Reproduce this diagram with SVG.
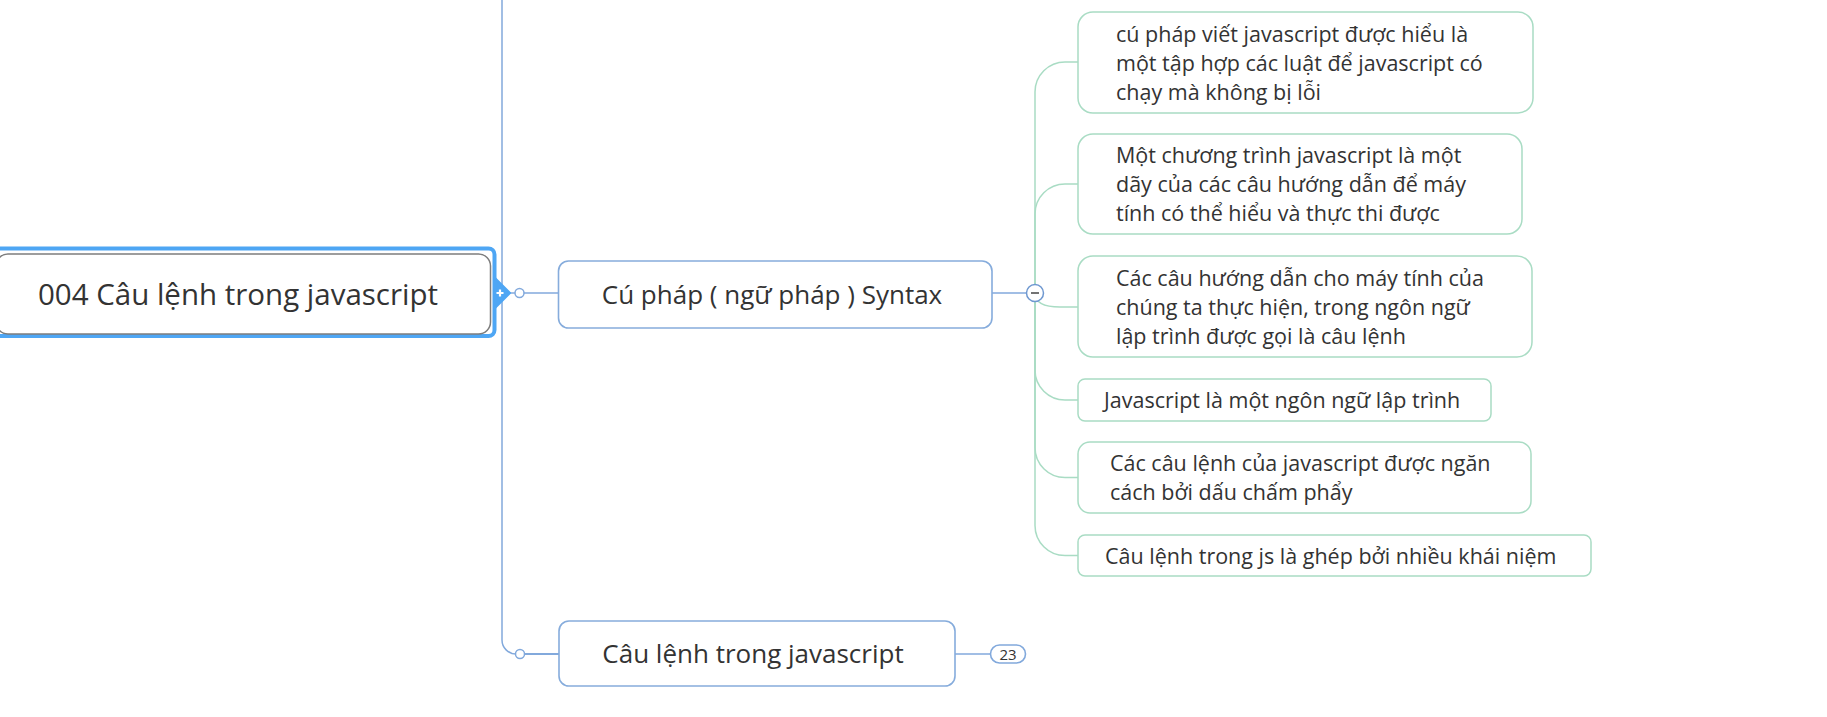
<svg xmlns="http://www.w3.org/2000/svg" width="1827" height="717" viewBox="0 0 1827 717">
<style>
  .t { font-family: "Open Sans", "Noto Sans", sans-serif; fill: #333333; }
  .root { font-size: 29.5px; }
  .main { font-size: 26px; }
  .leaf { font-size: 21.5px; }
  .badge { font-size: 15px; }
  .blue { fill: none; stroke: #82a9dc; stroke-width: 1.5; }
  .green { fill: none; stroke: #a9dcc4; stroke-width: 1.5; }
  .mbox { fill: #ffffff; stroke: #86acdc; stroke-width: 1.6; }
  .lbox { fill: #ffffff; stroke: #a9dcc4; stroke-width: 1.5; }
</style>
<rect width="1827" height="717" fill="#ffffff"/>

<g id="connectors">
  <path class="blue" d="M502,0 V640 A14,14 0 0 0 516,654"/>
  <path class="blue" d="M509,293 H515"/>
  <path class="blue" d="M524,293 H558.5"/>
  <path class="blue" d="M524.5,654 H559" style="stroke-width:2"/>
  <path class="blue" d="M992,293 H1026.5"/>
  <path class="blue" d="M955,654 H990.5"/>
  <path class="green" d="M1035,293 V92 A30,30 0 0 1 1065,62 H1078"/>
  <path class="green" d="M1035,293 V214 A30,30 0 0 1 1065,184 H1078"/>
  <path class="green" d="M1035,293 C1035,303 1044,307 1060,307 H1078"/>
  <path class="green" d="M1035,293 V370 A30,30 0 0 0 1065,400 H1078"/>
  <path class="green" d="M1035,293 V447.5 A30,30 0 0 0 1065,477.5 H1078"/>
  <path class="green" d="M1035,293 V525.5 A30,30 0 0 0 1065,555.5 H1078"/>
  <circle cx="519.5" cy="293" r="4.5" fill="#ffffff" stroke="#82a9dc" stroke-width="1.5"/>
  <circle cx="520" cy="654" r="4.5" fill="#ffffff" stroke="#82a9dc" stroke-width="1.5"/>
</g>

<g id="root">
  <rect x="-10" y="248.5" width="504.5" height="87.5" rx="6" fill="none" stroke="#4ea6f4" stroke-width="4"/>
  <path d="M494,277 L510,293 L494,309 Z" fill="#4ea6f4" stroke="#4ea6f4" stroke-width="2" stroke-linejoin="round"/>
  <path d="M496.5,293 H503.5 M500,289.5 V296.5" stroke="#ffffff" stroke-width="2.2"/>
  <rect x="-4" y="254" width="494.5" height="80" rx="12" fill="#ffffff" stroke="#7d7d7d" stroke-width="1.5"/>
  <text class="t root" x="238" y="305" text-anchor="middle">004 Câu lệnh trong javascript</text>
</g>

<g id="syntax">
  <rect class="mbox" x="558.5" y="261" width="433.5" height="67" rx="10"/>
  <text class="t main" x="772" y="304" text-anchor="middle">Cú pháp ( ngữ pháp ) Syntax</text>
  <circle cx="1035" cy="293" r="8.5" fill="#ffffff" stroke="#6f98d0" stroke-width="1.5"/>
  <path d="M1031,293 H1039" stroke="#444444" stroke-width="1.5"/>
</g>

<g id="statements">
  <rect class="mbox" x="559" y="621" width="396" height="65" rx="10"/>
  <text class="t main" x="753" y="663" text-anchor="middle">Câu lệnh trong javascript</text>
  <rect x="990.5" y="645" width="35" height="18" rx="9" fill="#ffffff" stroke="#82a9dc" stroke-width="1.6"/>
  <text class="t badge" x="1008" y="659.5" text-anchor="middle">23</text>
</g>

<g id="leaf1">
  <rect class="lbox" x="1078" y="12" width="455" height="101" rx="15"/>
  <text class="t leaf" x="1116" y="41.5">cú pháp viết javascript được hiểu là</text>
  <text class="t leaf" x="1116" y="70.5">một tập hợp các luật để javascript có</text>
  <text class="t leaf" x="1116" y="99.5">chạy mà không bị lỗi</text>
</g>

<g id="leaf2">
  <rect class="lbox" x="1078" y="134" width="444" height="100" rx="15"/>
  <text class="t leaf" x="1116" y="163">Một chương trình javascript là một</text>
  <text class="t leaf" x="1116" y="192">dãy của các câu hướng dẫn để  máy</text>
  <text class="t leaf" x="1116" y="221">tính có thể hiểu và thực thi được</text>
</g>

<g id="leaf3">
  <rect class="lbox" x="1078" y="256" width="454" height="101" rx="15"/>
  <text class="t leaf" x="1116" y="285.5">Các câu hướng dẫn cho máy tính của</text>
  <text class="t leaf" x="1116" y="314.5">chúng ta thực hiện, trong ngôn ngữ</text>
  <text class="t leaf" x="1116" y="343.5">lập trình được gọi là câu lệnh</text>
</g>

<g id="leaf4">
  <rect class="lbox" x="1078" y="379" width="413" height="42" rx="7"/>
  <text class="t leaf" x="1104" y="408">Javascript là một ngôn ngữ lập trình</text>
</g>

<g id="leaf5">
  <rect class="lbox" x="1078" y="442" width="453" height="71" rx="12"/>
  <text class="t leaf" x="1110" y="471">Các câu lệnh của javascript được ngăn</text>
  <text class="t leaf" x="1110" y="500">cách bởi dấu chấm phẩy</text>
</g>

<g id="leaf6">
  <rect class="lbox" x="1078" y="535" width="513" height="41" rx="7"/>
  <text class="t leaf" x="1105" y="563.5">Câu lệnh trong js là ghép bởi nhiều khái niệm</text>
</g>
</svg>
